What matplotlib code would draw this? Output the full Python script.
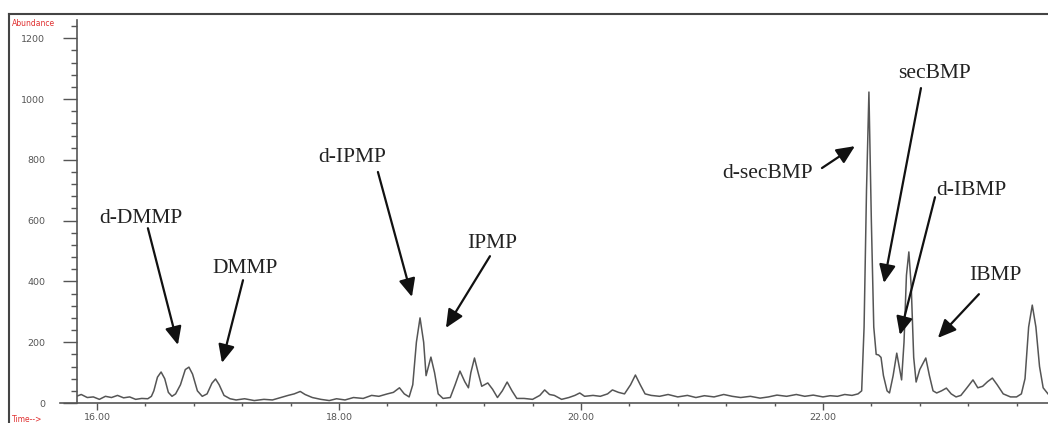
import matplotlib
matplotlib.use("Agg")
import matplotlib.pyplot as plt
from matplotlib.lines import Line2D

# ---- data ----
rt_min = [15.83, 15.87, 15.92, 15.97, 16.02, 16.07, 16.12, 16.17, 16.22, 16.27, 16.32, 16.37, 16.42, 16.45,
          16.47, 16.50, 16.53, 16.56, 16.59, 16.62, 16.65,
          16.69, 16.73, 16.76, 16.79, 16.83, 16.87,
          16.91, 16.95, 16.98, 17.01, 17.05, 17.10,
          17.15, 17.22, 17.30, 17.38, 17.45, 17.52, 17.58, 17.63, 17.68, 17.72, 17.78, 17.85, 17.92, 17.98,
          18.05, 18.12, 18.20, 18.27, 18.33, 18.40, 18.45, 18.50, 18.54, 18.58,
          18.61, 18.64, 18.67, 18.70, 18.72, 18.74, 18.76, 18.79, 18.82, 18.86, 18.92,
          18.96, 19.00, 19.04, 19.07, 19.09, 19.12, 19.15, 19.18, 19.23, 19.27, 19.31, 19.35, 19.39, 19.43,
          19.47, 19.53, 19.60, 19.66, 19.70, 19.74, 19.78, 19.84, 19.90, 19.95, 19.99, 20.03, 20.10, 20.16,
          20.22, 20.26, 20.31, 20.36, 20.41, 20.45, 20.49, 20.53, 20.58,
          20.65, 20.72, 20.80, 20.88, 20.95, 21.02, 21.10, 21.18, 21.25, 21.32, 21.40, 21.48, 21.55, 21.62,
          21.70, 21.78, 21.85, 21.92, 22.00, 22.06, 22.12, 22.18, 22.24, 22.29,
          22.32, 22.34, 22.36, 22.38, 22.40, 22.42, 22.44, 22.46, 22.48, 22.50, 22.53, 22.55, 22.58, 22.61,
          22.63, 22.65, 22.67, 22.69, 22.71, 22.73, 22.75, 22.77, 22.80, 22.85, 22.88, 22.91, 22.94, 22.98,
          23.02, 23.06, 23.10, 23.14, 23.19, 23.24, 23.28, 23.32, 23.36, 23.40, 23.44, 23.49, 23.55, 23.60,
          23.64, 23.67, 23.70, 23.73, 23.76, 23.79, 23.82, 23.86]
abundance = [22, 28, 18, 20, 12, 22, 18, 25, 17, 20, 12, 15, 14, 22,
             40, 85, 102, 80, 35, 22, 30,
             60, 110, 118, 95, 40, 22,
             30, 65, 79, 60, 25, 14,
             10, 14, 8, 12, 10, 18, 25, 30, 38, 28, 18, 12, 8, 14,
             10, 18, 15, 25, 22, 30, 35, 50, 30, 20,
             60, 200, 280, 200, 90, 120, 151, 100, 30, 15, 18,
             60, 105, 70, 50, 100, 148, 100, 55, 66, 45, 18, 40, 69, 40,
             15, 15, 12, 25, 43, 28, 25, 12, 18, 25, 33, 22, 25, 22,
             30, 43, 35, 30, 60, 92, 60, 30, 25,
             22, 28, 20, 25, 18, 24, 20, 28, 22, 18, 22, 16, 20, 26,
             22, 28, 22, 26, 20, 24, 22, 28, 25, 30,
             40, 250, 700, 1023, 600, 250, 160, 158, 150, 90, 40, 33, 90, 164,
             120, 76, 200, 420, 497, 380, 150, 69, 110, 148, 90, 40, 33, 40,
             49, 30, 20, 25, 50, 76, 50, 55, 70, 82, 60, 30, 20, 20,
             30, 80, 250, 322, 250, 120, 50, 30]

y_ticks = [0, 200, 400, 600, 800, 1000, 1200]
x_ticks = [16, 18, 20, 22]
x_tick_labels = ["16.00", "18.00", "20.00", "22.00"]

# compound labels: (name, text pos, arrow tail, arrow head) in (min, abundance)
compounds = ["d-DMMP", "DMMP", "d-IPMP", "IPMP", "d-secBMP", "secBMP", "d-IBMP", "IBMP"]
label_xy = [(16.364, 608), (17.223, 444), (18.107, 809), (19.264, 526),
            (21.545, 756), (22.926, 1085), (23.223, 700), (23.421, 421)]
tail_xy = [(16.421, 575), (17.207, 404), (18.322, 760), (19.248, 483),
           (21.992, 773), (22.81, 1036), (22.926, 677), (23.289, 358)]
head_xy = [(16.669, 191), (17.033, 132), (18.603, 349), (18.884, 247),
           (22.264, 845), (22.504, 395), (22.636, 224), (22.95, 214)]

# ---- figure ----
W, H = 1048, 423
fig = plt.figure(figsize=(W / 100, H / 100), dpi=100)
fig.patch.set_facecolor("white")

left_px, bottom_px, top_px = 77, 403, 20
ax = fig.add_axes([left_px / W, (H - bottom_px) / H, 1 - left_px / W, (bottom_px - top_px) / H])

axis_col = "#555555"
ax.plot(rt_min, abundance, color="#555555", lw=1.1, solid_joinstyle="round")

ax.set_xlim(15.835, 23.86)
ax.set_ylim(0, 1260)

for s in ["top", "right", "bottom"]:
    ax.spines[s].set_visible(False)
ax.spines["left"].set_color(axis_col)
ax.spines["left"].set_linewidth(1.2)
ax.axhline(0, xmin=-(77 - 60) / (W - 77), xmax=1, color=axis_col, lw=1.2, clip_on=False)

ax.set_yticks(y_ticks)
ax.set_yticklabels([str(v) for v in y_ticks])
ax.set_yticks(range(0, 1260, 40), minor=True)
ax.tick_params(axis="y", which="major", length=10, width=1.0, color=axis_col,
               labelsize=6.8, labelcolor="#555555", pad=13)
ax.tick_params(axis="y", which="minor", length=4.5, width=1.0, color=axis_col)

ax.set_xticks(x_ticks)
ax.set_xticklabels(x_tick_labels)
ax.set_xticks([16 + 0.4 * i for i in range(-2, 20) if 15.835 <= 16 + 0.4 * i <= 23.86], minor=True)
ax.tick_params(axis="x", which="major", length=5, width=1.0, color=axis_col,
               labelsize=6.8, labelcolor="#555555", pad=2)
ax.tick_params(axis="x", which="minor", length=2.5, width=1.0, color=axis_col)

serif = ["Liberation Serif", "DejaVu Serif"]
for name, lxy, txy, hxy in zip(compounds, label_xy, tail_xy, head_xy):
    ax.text(lxy[0], lxy[1], name, ha="center", va="center", fontsize=15.5,
            family=serif, color="#222222")
    ax.annotate("", xy=hxy, xytext=txy,
                arrowprops=dict(arrowstyle="-|>,head_length=0.55,head_width=0.25",
                                lw=1.6, color="#111111", shrinkA=0, shrinkB=0,
                                mutation_scale=20))

# outer frame of the instrument printout
fig.add_artist(Line2D([9 / W, 9 / W], [0, 1 - 14 / H], transform=fig.transFigure,
                      color="#444444", lw=1.5))
fig.add_artist(Line2D([9 / W, 1], [1 - 14 / H, 1 - 14 / H], transform=fig.transFigure,
                      color="#444444", lw=1.5))

fig.text(12 / W, 1 - 23 / H, "Abundance", color="#e03030", fontsize=5.5, ha="left", va="center")
fig.text(12 / W, 1 - 419 / H, "Time-->", color="#e03030", fontsize=5.5, ha="left", va="center")

fig.savefig("out.png", dpi=100, facecolor="white")
